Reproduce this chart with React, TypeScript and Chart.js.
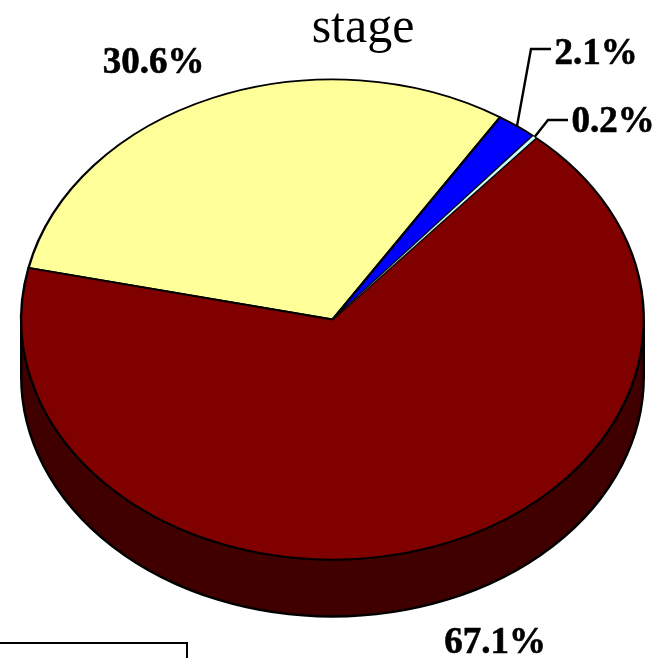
import React, { useEffect, useRef } from "react";
import { Chart, registerables } from "chart.js";

Chart.register(...registerables);

// Slice data, clockwise from the yellow wedge
const sliceNames = ["Stage A", "Stage B", "Stage C", "Stage D"];
const sliceValues = [30.6, 2.1, 0.2, 67.1];
const sliceColors = ["#FFFF99", "#0000FF", "#CCFFFF", "#800000"];
const sliceBorders = [2.4, 2.4, 0.6, 2.4];
const chartTitle = "stage";

// Look of the tilted pie
const WIDTH = 663;
const HEIGHT = 658;
const TILT = 241 / 312.5;
const DEPTH = 57;
const WALL_COLOR = "#400000";
const SERIF = '"Liberation Serif", "Times New Roman", serif';

// Where each value label is centred, and the optional elbow of its leader line
const labelPlacement = [
  { x: 153.5, y: 63 },
  { x: 596, y: 54, elbow: [531, 49], end: [551, 49] },
  { x: 613, y: 122, elbow: [548, 120], end: [568, 120] },
  { x: 495, y: 643 },
];

const tiltedPie = {
  id: "tiltedPie",
  beforeDatasetsDraw(chart: any) {
    const { ctx } = chart;
    const arcs = chart.getDatasetMeta(0).data;
    // Side wall: only the part of each slice on the near half of the rim shows
    arcs.forEach((arc: any, i: number) => {
      const twoPi = Math.PI * 2;
      let a = arc.startAngle % twoPi;
      if (a < 0) a += twoPi;
      const b = a + (arc.endAngle - arc.startAngle);
      for (const shift of [0, twoPi]) {
        const from = Math.max(a, shift);
        const to = Math.min(b, shift + Math.PI);
        if (to <= from) continue;
        const rx = arc.outerRadius;
        const ry = rx * TILT;
        ctx.save();
        ctx.beginPath();
        ctx.ellipse(arc.x, arc.y, rx, ry, 0, from, to);
        ctx.ellipse(arc.x, arc.y + DEPTH, rx, ry, 0, to, from, true);
        ctx.closePath();
        ctx.fillStyle = i === 3 ? WALL_COLOR : sliceColors[i];
        ctx.fill();
        ctx.lineWidth = 2.4;
        ctx.strokeStyle = "#000";
        ctx.stroke();
        ctx.restore();
      }
    });
    // Squash the top face about the pie centre
    const c = arcs[0];
    ctx.save();
    ctx.translate(0, c.y);
    ctx.scale(1, TILT);
    ctx.translate(0, -c.y);
  },
  afterDatasetsDraw(chart: any) {
    const { ctx } = chart;
    const arcs = chart.getDatasetMeta(0).data;
    // The narrowest slice goes back on top so its neighbours' outlines do not hide it
    arcs[2].draw(ctx);
    ctx.restore();

    ctx.save();
    ctx.textAlign = "center";
    ctx.textBaseline = "alphabetic";
    ctx.fillStyle = "#000";
    ctx.font = `50px ${SERIF}`;
    ctx.fillText(chartTitle, 363, 42);

    // Value labels and leader lines
    ctx.font = `bold 37px ${SERIF}`;
    ctx.textBaseline = "middle";
    ctx.strokeStyle = "#000";
    sliceValues.forEach((v, i) => {
      const p: any = labelPlacement[i];
      const text = `${v.toFixed(1)}%`;
      ctx.fillText(text, p.x, p.y);
      ctx.lineWidth = 0.6;
      ctx.strokeText(text, p.x, p.y);
      if (p.elbow) {
        const arc = arcs[i];
        const mid = (arc.startAngle + arc.endAngle) / 2;
        const sx = arc.x + arc.outerRadius * Math.cos(mid);
        const sy = arc.y + arc.outerRadius * TILT * Math.sin(mid);
        ctx.beginPath();
        ctx.moveTo(sx, sy);
        ctx.lineTo(p.elbow[0], p.elbow[1]);
        ctx.lineTo(p.end[0], p.end[1]);
        ctx.lineWidth = 2.4;
        ctx.stroke();
      }
    });

    // Frame of the legend box running off the bottom edge
    ctx.beginPath();
    ctx.moveTo(0, 643);
    ctx.lineTo(187, 643);
    ctx.lineTo(187, HEIGHT);
    ctx.lineWidth = 2;
    ctx.strokeStyle = "#000";
    ctx.stroke();
    ctx.restore();
  },
};

export default function App() {
  const ref = useRef<HTMLCanvasElement>(null);
  useEffect(() => {
    document.body.style.margin = "0";
    const chart = new Chart(ref.current!, {
      type: "pie",
      data: {
        labels: sliceNames,
        datasets: [
          {
            data: sliceValues,
            backgroundColor: sliceColors,
            borderColor: "#000",
            borderWidth: sliceBorders,
            hoverOffset: 0,
          },
        ],
      },
      options: {
        responsive: false,
        animation: false,
        rotation: -77.6,
        layout: { padding: { left: 20, right: 18, top: 7, bottom: 26 } },
        plugins: { legend: { display: false }, tooltip: { enabled: false }, title: { display: false } },
      },
      plugins: [tiltedPie],
    });
    return () => chart.destroy();
  }, []);
  return (
    <canvas
      ref={ref}
      width={WIDTH}
      height={HEIGHT}
      style={{ display: "block", width: WIDTH, height: HEIGHT, background: "#fff" }}
    />
  );
}
